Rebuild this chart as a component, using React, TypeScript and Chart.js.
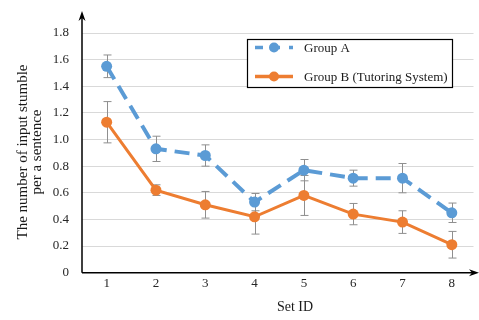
import React, { useEffect, useRef } from "react";
import { Chart, registerables } from "chart.js";

Chart.register(...registerables);

const categories = [1, 2, 3, 4, 5, 6, 7, 8];
const groupA = [1.55, 0.93, 0.88, 0.53, 0.77, 0.71, 0.71, 0.45];
const errA = [0.085, 0.095, 0.08, 0.065, 0.08, 0.06, 0.11, 0.073];
const groupB = [1.13, 0.62, 0.51, 0.42, 0.58, 0.44, 0.38, 0.21];
const errB = [0.155, 0.04, 0.1, 0.13, 0.15, 0.08, 0.085, 0.1];
const yTicks = [0, 0.2, 0.4, 0.6, 0.8, 1.0, 1.2, 1.4, 1.6, 1.8];
const seriesNames = ["Group A", "Group B (Tutoring System)"];
const yTitle = ["The number of input stumble", "per a sentence"];
const xTitle = "Set ID";

const BLUE = "#5B9BD5";
const ORANGE = "#ED7D31";
const FONT = "'Liberation Serif', 'Times New Roman', serif";

export default function App() {
  const ref = useRef<HTMLCanvasElement | null>(null);

  useEffect(() => {
    const canvas = ref.current;
    if (!canvas) return;

    const errorBars = {
      id: "errorBars",
      beforeDatasetsDraw(chart: any) {
        const { ctx } = chart;
        const xs = chart.scales.x;
        const ys = chart.scales.y;
        ctx.save();
        ctx.strokeStyle = "#8f8f8f";
        ctx.lineWidth = 1;
        [
          [groupA, errA],
          [groupB, errB],
        ].forEach(([vals, errs]) => {
          vals.forEach((v: number, i: number) => {
            const x = Math.round(xs.getPixelForValue(categories[i])) + 0.5;
            const y1 = ys.getPixelForValue(v + errs[i]);
            const y2 = ys.getPixelForValue(v - errs[i]);
            ctx.beginPath();
            ctx.moveTo(x, y1);
            ctx.lineTo(x, y2);
            ctx.moveTo(x - 4, y1);
            ctx.lineTo(x + 4, y1);
            ctx.moveTo(x - 4, y2);
            ctx.lineTo(x + 4, y2);
            ctx.stroke();
          });
        });
        ctx.restore();
      },
      afterDraw(chart: any) {
        const { ctx, chartArea } = chart;
        const l = chartArea.left;
        const b = chartArea.bottom;
        ctx.save();
        // axes with arrows
        ctx.strokeStyle = "#000";
        ctx.fillStyle = "#000";
        ctx.lineWidth = 1.5;
        ctx.beginPath();
        ctx.moveTo(l, b);
        ctx.lineTo(l, 16);
        ctx.moveTo(l, b);
        ctx.lineTo(475, b);
        ctx.stroke();
        ctx.beginPath();
        ctx.moveTo(l, 11);
        ctx.lineTo(l - 3.5, 21);
        ctx.lineTo(l, 18);
        ctx.lineTo(l + 3.5, 21);
        ctx.closePath();
        ctx.fill();
        ctx.beginPath();
        ctx.moveTo(479, b);
        ctx.lineTo(469, b - 3.5);
        ctx.lineTo(472, b);
        ctx.lineTo(469, b + 3.5);
        ctx.closePath();
        ctx.fill();

        // titles
        ctx.fillStyle = "#1a1a1a";
        ctx.font = `14px ${FONT}`;
        ctx.textAlign = "center";
        ctx.textBaseline = "middle";
        ctx.fillText(xTitle, 295, 307);
        ctx.save();
        ctx.font = `15px ${FONT}`;
        ctx.translate(23, 152);
        ctx.rotate(-Math.PI / 2);
        ctx.fillText(yTitle[0], 0, 0);
        ctx.fillText(yTitle[1], 0, 14.5);
        ctx.restore();

        // legend
        ctx.fillStyle = "#fff";
        ctx.fillRect(247.5, 39.5, 205, 48);
        ctx.strokeStyle = "#000";
        ctx.lineWidth = 1.2;
        ctx.strokeRect(247.5, 39.5, 205, 48);
        const items = [
          { y: 47.5, color: BLUE, dash: [8, 9] },
          { y: 76.5, color: ORANGE, dash: [] },
        ];
        items.forEach((it, i) => {
          ctx.strokeStyle = it.color;
          ctx.fillStyle = it.color;
          ctx.lineWidth = 3.5;
          ctx.setLineDash(it.dash);
          ctx.beginPath();
          ctx.moveTo(255, it.y);
          ctx.lineTo(293, it.y);
          ctx.stroke();
          ctx.setLineDash([]);
          ctx.beginPath();
          ctx.arc(274, it.y, 5, 0, Math.PI * 2);
          ctx.fill();
          ctx.fillStyle = "#1a1a1a";
          ctx.font = `13px ${FONT}`;
          ctx.textAlign = "left";
          ctx.textBaseline = "middle";
          ctx.fillText(seriesNames[i], 304, it.y + 1);
        });
        ctx.restore();
      },
    };

    const chart = new Chart(canvas, {
      type: "line",
      data: {
        datasets: [
          {
            label: seriesNames[0],
            data: categories.map((c, i) => ({ x: c, y: groupA[i] })),
            borderColor: BLUE,
            backgroundColor: BLUE,
            borderWidth: 4,
            borderDash: [15, 8],
            pointRadius: 5.5,
            pointBorderWidth: 0,
            tension: 0,
          },
          {
            label: seriesNames[1],
            data: categories.map((c, i) => ({ x: c, y: groupB[i] })),
            borderColor: ORANGE,
            backgroundColor: ORANGE,
            borderWidth: 3,
            pointRadius: 5.5,
            pointBorderWidth: 0,
            tension: 0,
          },
        ],
      },
      options: {
        responsive: false,
        animation: false,
        layout: { padding: { top: 33, right: 0, left: 0, bottom: 0 } },
        plugins: {
          legend: { display: false },
          tooltip: { enabled: false },
        },
        scales: {
          x: {
            type: "linear",
            min: 0.5,
            max: 8.44,
            afterBuildTicks: (scale: any) => {
              scale.ticks = categories.map((v) => ({ value: v }));
            },
            afterFit: (scale: any) => {
              scale.height = 47.3;
            },
            grid: { display: false, drawTicks: false },
            border: { display: false },
            ticks: {
              padding: 3,
              color: "#262626",
              font: { family: FONT, size: 13 },
              maxRotation: 0,
              autoSkip: false,
            },
          },
          y: {
            min: 0,
            max: 1.8,
            afterBuildTicks: (scale: any) => {
              scale.ticks = yTicks.map((v) => ({ value: v }));
            },
            afterFit: (scale: any) => {
              scale.width = 82;
            },
            grid: {
              color: (c: any) => (c.tick && c.tick.value === 0 ? "rgba(0,0,0,0)" : "#d9d9d9"),
              lineWidth: 1,
              drawTicks: false,
            },
            border: { display: false },
            ticks: {
              padding: 13,
              color: "#262626",
              font: { family: FONT, size: 13 },
              callback: (v: any) => (v === 0 ? "0" : Number(v).toFixed(1)),
            },
          },
        },
      },
      plugins: [errorBars],
    });

    return () => chart.destroy();
  }, []);

  return (
    <div style={{ position: "fixed", left: 0, top: 0, width: 479, height: 320, background: "#fff" }}>
      <canvas ref={ref} width={479} height={320} style={{ display: "block" }} />
    </div>
  );
}
